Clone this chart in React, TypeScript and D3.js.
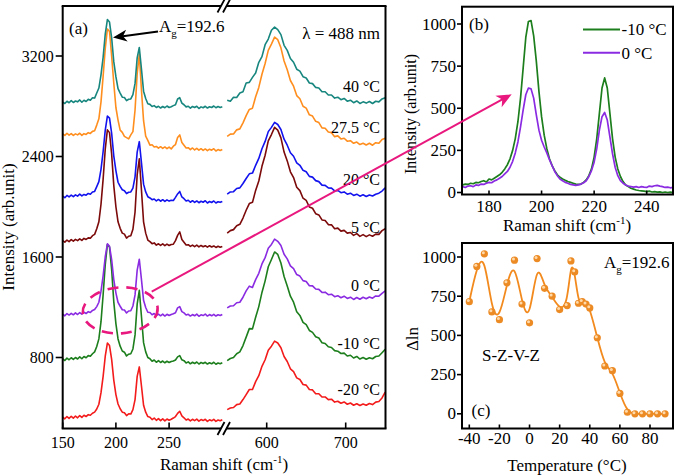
import React, { useEffect, useState } from 'react';
import * as d3 from 'd3';

const FONT_CSS = "'Liberation Serif'";
const FONT_NAME = 'Liberation Serif';

// ---------- Panel (a): Raman spectra at several temperatures ----------
const LOW_SHIFT = d3.range(150, 301, 2);   // cm-1, left segment
const HIGH_SHIFT = d3.range(550, 751, 4);  // cm-1, right segment
const TEMP_LABELS = ['40 °C', '27.5 °C', '20 °C', '5 °C', '0 °C', '-10 °C', '-20 °C'];
const TEMP_COLORS = ['#17867E', '#FF8E1E', '#1212EE', '#7C0A0A', '#8A2BE2', '#1C7E1C', '#F31B1B'];
const TEMP_LABEL_LEVEL = [2960, 2630, 2220, 1835, 1370, 910, 545];
const A_Y_TICKS = [800, 1600, 2400, 3200];
const A_X_TICKS_LOW = [150, 200, 250];
const A_X_TICKS_HIGH = [600, 700];

const T40_LOW = [2833, 2822, 2840, 2828, 2845, 2830, 2842, 2835, 2850, 2832, 2848, 2838, 2855, 2848, 2868, 2865, 2905, 2945, 3050, 3190, 3375, 3490, 3470, 3345, 3155, 3035, 2940, 2905, 2872, 2870, 2845, 2856, 2858, 2892, 2982, 3185, 3268, 3098, 2920, 2862, 2820, 2815, 2798, 2805, 2790, 2800, 2786, 2798, 2788, 2802, 2790, 2796, 2805, 2812, 2858, 2868, 2825, 2812, 2795, 2800, 2785, 2798, 2790, 2800, 2782, 2795, 2788, 2800, 2786, 2796, 2790, 2802, 2788, 2798, 2790, 2796];
const T27_LOW = [2580, 2568, 2585, 2570, 2582, 2568, 2580, 2572, 2585, 2568, 2582, 2576, 2590, 2584, 2600, 2605, 2650, 2700, 2835, 3040, 3260, 3415, 3395, 3200, 2985, 2790, 2690, 2610, 2592, 2560, 2550, 2540, 2572, 2598, 2770, 3060, 3215, 2930, 2685, 2562, 2528, 2490, 2494, 2476, 2480, 2466, 2478, 2465, 2476, 2462, 2475, 2460, 2482, 2495, 2552, 2572, 2512, 2490, 2468, 2470, 2455, 2468, 2452, 2465, 2450, 2462, 2448, 2460, 2446, 2458, 2450, 2462, 2444, 2455, 2448, 2456];
const T20_LOW = [2085, 2072, 2090, 2078, 2092, 2080, 2095, 2085, 2100, 2086, 2098, 2092, 2106, 2100, 2118, 2122, 2160, 2200, 2298, 2440, 2610, 2722, 2705, 2585, 2405, 2288, 2195, 2162, 2135, 2128, 2105, 2115, 2118, 2148, 2238, 2435, 2518, 2352, 2180, 2118, 2080, 2070, 2056, 2062, 2046, 2058, 2044, 2056, 2042, 2055, 2045, 2052, 2050, 2075, 2102, 2122, 2078, 2064, 2046, 2052, 2036, 2048, 2035, 2046, 2032, 2044, 2036, 2048, 2030, 2042, 2034, 2046, 2030, 2040, 2035, 2042];
const T5_LOW = [1730, 1718, 1735, 1722, 1738, 1726, 1740, 1730, 1745, 1732, 1748, 1740, 1752, 1750, 1770, 1780, 1825, 1880, 2020, 2220, 2460, 2612, 2590, 2420, 2170, 2000, 1880, 1828, 1790, 1782, 1750, 1765, 1770, 1820, 1958, 2255, 2382, 2135, 1880, 1790, 1735, 1722, 1706, 1712, 1695, 1705, 1692, 1704, 1690, 1702, 1692, 1700, 1702, 1730, 1772, 1800, 1740, 1718, 1696, 1698, 1684, 1695, 1682, 1694, 1680, 1692, 1682, 1690, 1678, 1690, 1680, 1688, 1676, 1686, 1678, 1684];
const T0_LOW = [1145, 1132, 1150, 1138, 1152, 1140, 1155, 1142, 1158, 1145, 1160, 1150, 1165, 1158, 1175, 1182, 1205, 1240, 1328, 1450, 1602, 1705, 1685, 1580, 1420, 1315, 1238, 1208, 1180, 1178, 1155, 1170, 1172, 1210, 1298, 1495, 1582, 1422, 1255, 1198, 1160, 1158, 1140, 1150, 1134, 1146, 1132, 1145, 1130, 1144, 1134, 1142, 1148, 1156, 1195, 1205, 1165, 1155, 1138, 1144, 1130, 1142, 1132, 1145, 1128, 1140, 1134, 1146, 1130, 1142, 1132, 1144, 1130, 1140, 1134, 1142];
const TM10_LOW = [790, 776, 795, 782, 798, 785, 800, 788, 805, 790, 808, 798, 815, 810, 830, 845, 888, 948, 1085, 1300, 1540, 1700, 1680, 1500, 1245, 1070, 948, 890, 852, 842, 812, 826, 830, 868, 980, 1225, 1335, 1128, 918, 845, 800, 790, 770, 780, 762, 775, 760, 772, 758, 770, 760, 768, 772, 780, 805, 815, 782, 775, 756, 765, 750, 762, 752, 764, 748, 760, 752, 762, 748, 758, 750, 762, 746, 756, 750, 758];
const TM20_LOW = [326, 312, 330, 316, 332, 318, 334, 320, 338, 324, 340, 330, 345, 340, 356, 365, 390, 428, 520, 650, 810, 915, 895, 785, 620, 505, 430, 392, 365, 360, 338, 352, 350, 385, 465, 650, 725, 575, 420, 365, 330, 325, 306, 318, 300, 314, 298, 312, 296, 310, 300, 308, 318, 330, 355, 372, 335, 320, 302, 310, 296, 308, 298, 310, 294, 306, 298, 308, 292, 304, 296, 308, 292, 302, 296, 304];

const T40_HIGH = [2848, 2840, 2872, 2870, 2905, 2915, 2985, 2990, 3030, 3065, 3150, 3195, 3290, 3335, 3405, 3430, 3410, 3370, 3285, 3245, 3180, 3150, 3095, 3080, 3035, 3025, 2985, 2980, 2950, 2945, 2915, 2915, 2890, 2890, 2865, 2872, 2852, 2862, 2840, 2848, 2828, 2842, 2822, 2835, 2825, 2838, 2822, 2840, 2835, 2858, 2868];
const T27_HIGH = [2560, 2578, 2580, 2612, 2620, 2668, 2725, 2775, 2785, 2875, 2950, 3055, 3140, 3245, 3295, 3350, 3330, 3265, 3160, 3090, 3005, 2960, 2885, 2860, 2800, 2785, 2732, 2722, 2680, 2670, 2628, 2625, 2595, 2590, 2558, 2564, 2540, 2545, 2522, 2526, 2505, 2515, 2495, 2506, 2492, 2505, 2490, 2510, 2505, 2535, 2545];
const T20_HIGH = [2100, 2118, 2120, 2145, 2150, 2185, 2225, 2262, 2268, 2330, 2385, 2462, 2520, 2598, 2632, 2672, 2655, 2615, 2538, 2490, 2430, 2402, 2350, 2330, 2290, 2278, 2242, 2236, 2208, 2200, 2172, 2170, 2150, 2148, 2126, 2130, 2112, 2118, 2100, 2108, 2090, 2100, 2084, 2095, 2082, 2094, 2086, 2100, 2108, 2125, 2150];
const T5_HIGH = [1790, 1810, 1818, 1848, 1860, 1910, 1972, 2025, 2035, 2130, 2205, 2322, 2410, 2525, 2575, 2632, 2610, 2548, 2435, 2365, 2278, 2232, 2155, 2128, 2068, 2050, 1998, 1988, 1945, 1935, 1895, 1890, 1858, 1856, 1825, 1830, 1806, 1812, 1790, 1795, 1772, 1786, 1764, 1778, 1762, 1776, 1765, 1782, 1780, 1810, 1825];
const T0_HIGH = [1195, 1210, 1212, 1236, 1240, 1280, 1330, 1368, 1358, 1420, 1470, 1545, 1595, 1670, 1700, 1742, 1725, 1692, 1622, 1585, 1530, 1508, 1460, 1448, 1412, 1405, 1372, 1370, 1345, 1342, 1318, 1320, 1300, 1304, 1284, 1292, 1276, 1288, 1270, 1280, 1262, 1278, 1264, 1280, 1268, 1282, 1272, 1290, 1288, 1310, 1330];
const TM10_HIGH = [775, 792, 800, 830, 845, 895, 962, 1030, 1028, 1120, 1205, 1318, 1410, 1522, 1580, 1640, 1620, 1552, 1445, 1370, 1288, 1240, 1165, 1135, 1080, 1062, 1015, 1000, 965, 955, 918, 912, 885, 880, 855, 850, 832, 835, 812, 818, 796, 808, 788, 800, 786, 798, 790, 808, 812, 838, 865];
const TM20_HIGH = [385, 398, 402, 425, 430, 465, 505, 545, 545, 608, 655, 730, 782, 858, 890, 930, 915, 878, 808, 768, 710, 688, 638, 625, 585, 580, 545, 542, 512, 512, 485, 486, 465, 468, 445, 452, 436, 446, 428, 438, 420, 432, 418, 430, 420, 434, 425, 445, 450, 478, 525];

const SPECTRA_LOW = [T40_LOW, T27_LOW, T20_LOW, T5_LOW, T0_LOW, TM10_LOW, TM20_LOW];
const SPECTRA_HIGH = [T40_HIGH, T27_HIGH, T20_HIGH, T5_HIGH, T0_HIGH, TM10_HIGH, TM20_HIGH];
const DRAW_ORDER = [6, 5, 4, 3, 2, 1, 0];

// ---------- Panel (b): zoom of two spectra ----------
const B_SHIFT = d3.range(170, 251, 1);
const B_M10 = [45, 50, 48, 55, 52, 60, 58, 65, 70, 62, 80, 75, 85, 95, 105, 120, 140, 165, 200, 250, 320, 420, 560, 740, 920, 1015, 1020, 930, 780, 600, 450, 340, 260, 200, 160, 130, 105, 90, 80, 72, 65, 60, 55, 50, 48, 50, 60, 75, 100, 140, 210, 320, 470, 620, 680, 620, 470, 320, 210, 140, 95, 65, 45, 35, 25, 20, 15, 12, 10, 8, 5, 8, 3, 5, 2, 4, 0, 3, 0, 2, 0];
const B_0 = [35, 30, 38, 40, 35, 45, 42, 50, 48, 55, 60, 58, 68, 75, 85, 95, 110, 125, 150, 185, 235, 300, 390, 490, 580, 620, 615, 560, 460, 370, 310, 270, 235, 195, 160, 125, 100, 80, 70, 60, 55, 48, 45, 42, 45, 50, 58, 70, 95, 130, 180, 260, 370, 450, 475, 430, 330, 230, 150, 100, 70, 55, 45, 38, 35, 32, 35, 30, 35, 32, 30, 38, 35, 40, 42, 38, 35, 30, 32, 28, 30];
const B_SERIES = [
  { label: '-10 °C', values: B_M10, color: '#1C7E1C' },
  { label: '0 °C', values: B_0, color: '#8A2BE2' },
];
const B_X_TICKS = [180, 200, 220, 240];
const B_Y_TICKS = [0, 250, 500, 750, 1000];

// ---------- Panel (c): Δln vs temperature ----------
const C_TEMP = [-40, -35, -30, -25, -20, -15, -10, -5, 0, 5, 10, 15, 20, 25, 27.5, 30, 32.5, 35, 37.5, 40, 45, 50, 55, 60, 65, 70, 75, 80, 85, 90];
const C_DLN = [715, 940, 1020, 650, 600, 835, 980, 700, 580, 990, 800, 750, 665, 690, 975, 905, 705, 715, 700, 675, 485, 305, 275, 130, 10, 0, 0, 0, 0, 0];
const C_X_TICKS = [-40, -20, 0, 20, 40, 60, 80];
const C_Y_TICKS = [0, 250, 500, 750, 1000];

const MAGENTA = '#E8187E';
const ORANGE = '#F28A1E';

function arrowHead(tip: [number, number], from: [number, number], len: number, half: number) {
  const dx = tip[0] - from[0];
  const dy = tip[1] - from[1];
  const L = Math.hypot(dx, dy);
  const ux = dx / L, uy = dy / L;
  const nx = -uy, ny = ux;
  const bx = tip[0] - ux * len, by = tip[1] - uy * len;
  const nxp = tip[0] - ux * len * 0.72, nyp = tip[1] - uy * len * 0.72;
  return `M${tip[0]},${tip[1]}L${bx + nx * half},${by + ny * half}L${nxp},${nyp}L${bx - nx * half},${by - ny * half}Z`;
}

function T(props: any) {
  return <text fontFamily={FONT_NAME} style={{ fontFamily: FONT_CSS }} {...props} />;
}

export default function App() {
  const [fontKey, setFontKey] = useState(0);
  useEffect(() => {
    const fonts: any = (document as any).fonts;
    let alive = true;
    if (fonts && fonts.load) {
      Promise.all([
        fonts.load("16px 'Liberation Serif'"),
        fonts.load("17px 'Liberation Serif'"),
      ]).then(() => { if (alive) setFontKey((k) => k + 1); }).catch(() => {});
    }
    const t = setTimeout(() => { if (alive) setFontKey((k) => k + 1); }, 30);
    return () => { alive = false; clearTimeout(t); };
  }, []);

  const aL = 62.7, aR = 385.5, aT = 6, aB = 428.5;
  const xLow = d3.scaleLinear().domain([150, 300]).range([62.7, 222.3]);
  const xHigh = d3.scaleLinear().domain([550, 750]).range([227.2, 385.2]);
  const yA = d3.scaleLinear().domain([800, 3200]).range([357.5, 56]);

  const bL = 462, bR = 673, bT = 6.7, bB = 194.5;
  const xB = d3.scaleLinear().domain([180, 240]).range([489, 646.7]);
  const yB = d3.scaleLinear().domain([0, 1000]).range([192.5, 24]);

  const cL = 462, cR = 673, cT = 243, cB = 428.5;
  const xC = d3.scaleLinear().domain([-40, 80]).range([469.3, 650]);
  const yC = d3.scaleLinear().domain([0, 1000]).range([413.8, 257]);

  const lineLow = (vals: number[]) =>
    d3.line<number>().x((_, i) => xLow(LOW_SHIFT[i])).y((d) => yA(d))(vals) || '';
  const lineHigh = (vals: number[]) =>
    d3.line<number>().x((_, i) => xHigh(HIGH_SHIFT[i])).y((d) => yA(d))(vals) || '';
  const lineB = (vals: number[]) =>
    d3.line<number>().x((_, i) => xB(B_SHIFT[i])).y((d) => yB(d))(vals) || '';
  const cPts: [number, number][] = C_TEMP.map((t, i) => [xC(t), yC(C_DLN[i])]);
  const curveC = d3.line().curve(d3.curveBasis)(cPts) || '';

  const brk1 = 221, brk2 = 226.5;
  const slash = (cx: number, cy: number) => `M${cx - 3.5},${cy + 6.5}L${cx + 3.5},${cy - 6.5}`;

  const magStart: [number, number] = [151.7, 291.7];
  const magTip: [number, number] = [511.7, 94.3];
  const blkStart: [number, number] = [158, 31.5];
  const blkTip: [number, number] = [113, 37.5];

  const fs = 16;
  const ls = 17;

  return (
    <svg width={675} height={475} style={{ position: 'absolute', left: 0, top: 0 }}>
      <defs>
        <clipPath id="clipB">
          <rect x={bL} y={bT} width={bR - bL} height={bB - bT} />
        </clipPath>
      </defs>
      <rect width={675} height={475} fill="#fff" />

      {/* ---------------- marks ---------------- */}
      {DRAW_ORDER.map((k) => (
        <g key={'s' + k} fill="none" stroke={TEMP_COLORS[k]} strokeWidth={1.6} strokeLinejoin="round">
          <path d={lineLow(SPECTRA_LOW[k])} />
          <path d={lineHigh(SPECTRA_HIGH[k])} />
        </g>
      ))}
      <g stroke="#000" strokeWidth={2} fill="none">
        <path d={`M${aL},${aT}V${aB}`} />
        <path d={`M${aR},${aT}V${aB}`} />
        <path d={`M${aL - 1},${aT}H${brk1}M${brk2},${aT}H${aR + 1}`} />
        <path d={`M${aL - 1},${aB}H${brk1}M${brk2},${aB}H${aR + 1}`} />
        <path d={slash(brk1, aT) + slash(brk2, aT)} strokeWidth={1.8} />
        <path d={slash(brk1, aB) + slash(brk2, aB)} strokeWidth={1.8} />
      </g>
      {A_Y_TICKS.map((v) => (
        <line key={'ayt' + v} x1={aL - 7} x2={aL} y1={yA(v)} y2={yA(v)} stroke="#000" strokeWidth={1.6} />
      ))}
      {A_X_TICKS_LOW.map((v) => (
        <line key={'axlt' + v} x1={xLow(v)} x2={xLow(v)} y1={aB} y2={aB - 6} stroke="#000" strokeWidth={1.6} />
      ))}
      {A_X_TICKS_HIGH.map((v) => (
        <line key={'axht' + v} x1={xHigh(v)} x2={xHigh(v)} y1={aB} y2={aB - 6} stroke="#000" strokeWidth={1.6} />
      ))}
      <line x1={blkStart[0]} y1={blkStart[1]} x2={blkTip[0] + 8} y2={blkTip[1] - 1} stroke="#000" strokeWidth={1.8} />
      <path d={arrowHead(blkTip, blkStart, 14, 6)} fill="#000" />

      <g clipPath="url(#clipB)">
        {B_SERIES.map((s) => (
          <path key={s.label} d={lineB(s.values)} fill="none" stroke={s.color} strokeWidth={1.7} strokeLinejoin="round" />
        ))}
      </g>
      <rect x={bL} y={bT} width={bR - bL} height={bB - bT} fill="none" stroke="#000" strokeWidth={2} />
      {B_Y_TICKS.map((v) => (
        <line key={'byt' + v} x1={bL - 5} x2={bL} y1={yB(v)} y2={yB(v)} stroke="#000" strokeWidth={1.6} />
      ))}
      {B_X_TICKS.map((v) => (
        <line key={'bxt' + v} x1={xB(v)} x2={xB(v)} y1={bB} y2={bB - 4} stroke="#000" strokeWidth={1.6} />
      ))}
      {B_SERIES.map((s, i) => (
        <line key={'lgl' + i} x1={583} x2={620} y1={29.5 + i * 23.3} y2={29.5 + i * 23.3} stroke={s.color} strokeWidth={2} />
      ))}

      <path d={curveC} fill="none" stroke={ORANGE} strokeWidth={1.8} />
      {cPts.map((p, i) => (
        <g key={'c' + i}>
          <circle cx={p[0]} cy={p[1]} r={3.6} fill="#EC8A24" />
          <circle cx={p[0] - 1} cy={p[1] - 1.1} r={1.5} fill="#FFD9A8" />
        </g>
      ))}
      <rect x={cL} y={cT} width={cR - cL} height={cB - cT} fill="none" stroke="#000" strokeWidth={2} />
      {C_Y_TICKS.map((v) => (
        <line key={'cyt' + v} x1={cL - 5} x2={cL} y1={yC(v)} y2={yC(v)} stroke="#000" strokeWidth={1.6} />
      ))}
      {C_X_TICKS.map((v) => (
        <line key={'cxt' + v} x1={xC(v)} x2={xC(v)} y1={cB} y2={cB - 4} stroke="#000" strokeWidth={1.6} />
      ))}

      <ellipse cx={120.2} cy={310.4} rx={37.5} ry={23} transform="rotate(-4 120.2 310.4)" fill="none"
        stroke={MAGENTA} strokeWidth={2.6} strokeDasharray="11 8" />

      {/* ---------------- text layer ---------------- */}
      <g key={'txt' + fontKey} fontFamily={FONT_NAME} style={{ fontFamily: FONT_CSS }}>
        {TEMP_LABELS.map((t, k) => (
          <T key={'tl' + k} x={380} y={yA(TEMP_LABEL_LEVEL[k]) + 5.5} fontSize={fs} textAnchor="end">{t}</T>
        ))}
        {A_Y_TICKS.map((v) => (
          <T key={'ay' + v} x={aL - 9} y={yA(v) + 5.5} fontSize={fs} textAnchor="end">{String(v)}</T>
        ))}
        {A_X_TICKS_LOW.map((v) => (
          <T key={'axl' + v} x={xLow(v)} y={448} fontSize={fs} textAnchor="middle">{String(v)}</T>
        ))}
        {A_X_TICKS_HIGH.map((v) => (
          <T key={'axh' + v} x={xHigh(v)} y={448} fontSize={fs} textAnchor="middle">{String(v)}</T>
        ))}
        <T x={224} y={469.5} fontSize={ls} textAnchor="middle">
          Raman shift (cm<tspan fontSize={11} dy={-7}>-1</tspan><tspan dy={7}>)</tspan>
        </T>
        <T transform={`translate(14,227) rotate(-90)`} fontSize={ls} textAnchor="middle">Intensity (arb.unit)</T>
        <T x={69} y={33.5} fontSize={ls}>(a)</T>
        <T x={380} y={38.5} fontSize={ls} textAnchor="end">λ = 488 nm</T>
        <T x={159} y={31.5} fontSize={ls}>
          A<tspan fontSize={11} dy={5}>g</tspan><tspan dy={-5}>=192.6</tspan>
        </T>

        {B_Y_TICKS.map((v) => (
          <T key={'by' + v} x={bL - 6} y={yB(v) + 5.5} fontSize={ls} textAnchor="end">{String(v)}</T>
        ))}
        {B_X_TICKS.map((v) => (
          <T key={'bx' + v} x={xB(v)} y={211.5} fontSize={ls} textAnchor="middle">{String(v)}</T>
        ))}
        <T x={567} y={231} fontSize={ls} textAnchor="middle">
          Raman shift (cm<tspan fontSize={11} dy={-7}>-1</tspan><tspan dy={7}>)</tspan>
        </T>
        <T transform={`translate(416,114) rotate(-90)`} fontSize={16} textAnchor="middle">Intensity (arb.unit)</T>
        <T x={469} y={29.5} fontSize={ls}>(b)</T>
        {B_SERIES.map((s, i) => (
          <T key={'lg' + i} x={621.5} y={35.3 + i * 23.3} fontSize={ls}>{s.label}</T>
        ))}

        {C_Y_TICKS.map((v) => (
          <T key={'cy' + v} x={cL - 6} y={yC(v) + 5.5} fontSize={ls} textAnchor="end">{String(v)}</T>
        ))}
        {C_X_TICKS.map((v) => (
          <T key={'cx' + v} x={xC(v)} y={444} fontSize={ls} textAnchor="middle">{String(v)}</T>
        ))}
        <T x={567} y={471} fontSize={ls} textAnchor="middle">Temperature (°C)</T>
        <T transform={`translate(418,339) rotate(-90)`} fontSize={ls} textAnchor="middle">Δln</T>
        <T x={604} y={268} fontSize={ls}>
          A<tspan fontSize={11} dy={5}>g</tspan><tspan dy={-5}>=192.6</tspan>
        </T>
        <T x={482} y={361} fontSize={ls}>S-Z-V-Z</T>
        <T x={471.5} y={415.5} fontSize={ls}>(c)</T>
      </g>

      {/* ---------------- magenta arrow ---------------- */}
      <line x1={magStart[0]} y1={magStart[1]} x2={magTip[0] - 8} y2={magTip[1] + 4.4} stroke={MAGENTA} strokeWidth={2} />
      <path d={arrowHead(magTip, magStart, 15, 6.5)} fill={MAGENTA} />
    </svg>
  );
}
